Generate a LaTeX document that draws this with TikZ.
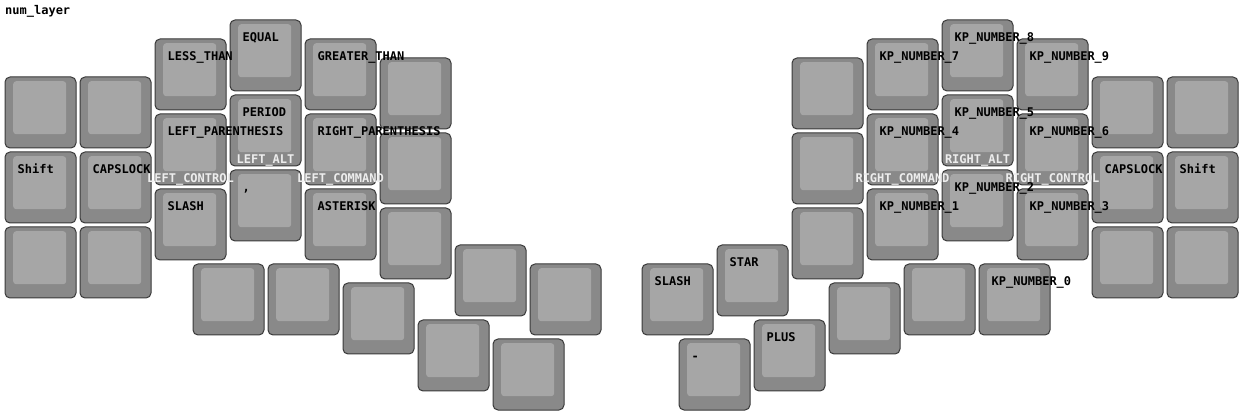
\documentclass[tikz,border=0pt]{standalone}
\usepackage{fontspec}
\setmonofont{DejaVu Sans Mono}
\usepackage{tikz}
\usepackage{xcolor}

\definecolor{capgray}{HTML}{898989}
\definecolor{topgray}{HTML}{A6A6A6}
\definecolor{rimgray}{HTML}{3A3A3A}

\tikzset{
  keycap/.style={draw=rimgray, line width=1pt, fill=capgray, rounded corners=5pt,
    minimum width=71pt, minimum height=71pt, inner sep=0pt, anchor=north west},
  keytop/.style={fill=topgray, rounded corners=3pt,
    minimum width=53pt, minimum height=53pt, inner sep=0pt, anchor=north west},
  taplabel/.style={font=\ttfamily\bfseries\fontsize{12}{14}\selectfont, text=black,
    inner sep=0pt, anchor=base west},
  holdlabel/.style={font=\ttfamily\bfseries\fontsize{12}{14}\selectfont, text=white!93!black,
    inner sep=0pt, anchor=base}
}

\begin{document}
\begin{tikzpicture}[x=1pt, y=-1pt]
    \fill[white] (0,0) rectangle (1242,419);
    \useasboundingbox (0,0) rectangle (1242,419);
    \node[taplabel] (title) at (5,14.5) {num\_layer};
    % left half
    \foreach \n/\x/\y in {la/4/76, lb/4/151, lc/4/226, ma/79/76, mb/79/151, mc/79/226,
        na/154/38, nb/154/113, nc/154/188, oa/229/19, ob/229/94, oc/229/169,
        pa/304/38, pb/304/113, pc/304/188, qa/379/57, qb/379/132, qc/379/207,
        ta/192/263, tb/267/263, tc/342/282, td/417/319, te/454/244, tf/492/338, tg/529/263}{
        \node[keycap] (\n) at (\x+0.5,\y+0.5) {};
        \node[keytop] (\n-top) at (\x+9,\y+5) {};
    }
    % right half
    \foreach \n/\x/\y in {ra/1166/76, rb/1166/151, rc/1166/226, sa/1091/76, sb/1091/151, sc/1091/226,
        ua/1016/38, ub/1016/113, uc/1016/188, va/941/19, vb/941/94, vc/941/169,
        wa/866/38, wb/866/113, wc/866/188, xa/791/57, xb/791/132, xc/791/207,
        ya/978/263, yb/903/263, yc/828/282, yd/753/319, ye/716/244, yf/678/338, yg/641/263}{
        \node[keycap] (\n) at (\x+0.5,\y+0.5) {};
        \node[keytop] (\n-top) at (\x+9,\y+5) {};
    }
    % left labels
    \node[taplabel] (lb-tap) at ([xshift=13pt,yshift=-22pt]lb.north west) {Shift};
    \node[taplabel] (mb-tap) at ([xshift=13pt,yshift=-22pt]mb.north west) {CAPSLOCK};
    \node[taplabel] (na-tap) at ([xshift=13pt,yshift=-22pt]na.north west) {LESS\_THAN};
    \node[taplabel] (nb-tap) at ([xshift=13pt,yshift=-22pt]nb.north west) {LEFT\_PARENTHESIS};
    \node[taplabel] (nc-tap) at ([xshift=13pt,yshift=-22pt]nc.north west) {SLASH};
    \node[taplabel] (oa-tap) at ([xshift=13pt,yshift=-22pt]oa.north west) {EQUAL};
    \node[taplabel] (ob-tap) at ([xshift=13pt,yshift=-22pt]ob.north west) {PERIOD};
    \node[taplabel] (oc-tap) at ([xshift=13pt,yshift=-22pt]oc.north west) {,};
    \node[taplabel] (pa-tap) at ([xshift=13pt,yshift=-22pt]pa.north west) {GREATER\_THAN};
    \node[taplabel] (pb-tap) at ([xshift=13pt,yshift=-22pt]pb.north west) {RIGHT\_PARENTHESIS};
    \node[taplabel] (pc-tap) at ([xshift=13pt,yshift=-22pt]pc.north west) {ASTERISK};
    \node[holdlabel] (nb-hold) at ([yshift=3pt]nb.south) {LEFT\_CONTROL};
    \node[holdlabel] (ob-hold) at ([yshift=3pt]ob.south) {LEFT\_ALT};
    \node[holdlabel] (pb-hold) at ([yshift=3pt]pb.south) {LEFT\_COMMAND};
    % right labels
    \node[taplabel] (rb-tap) at ([xshift=13pt,yshift=-22pt]rb.north west) {Shift};
    \node[taplabel] (sb-tap) at ([xshift=13pt,yshift=-22pt]sb.north west) {CAPSLOCK};
    \node[taplabel] (ua-tap) at ([xshift=13pt,yshift=-22pt]ua.north west) {KP\_NUMBER\_9};
    \node[taplabel] (ub-tap) at ([xshift=13pt,yshift=-22pt]ub.north west) {KP\_NUMBER\_6};
    \node[taplabel] (uc-tap) at ([xshift=13pt,yshift=-22pt]uc.north west) {KP\_NUMBER\_3};
    \node[taplabel] (va-tap) at ([xshift=13pt,yshift=-22pt]va.north west) {KP\_NUMBER\_8};
    \node[taplabel] (vb-tap) at ([xshift=13pt,yshift=-22pt]vb.north west) {KP\_NUMBER\_5};
    \node[taplabel] (vc-tap) at ([xshift=13pt,yshift=-22pt]vc.north west) {KP\_NUMBER\_2};
    \node[taplabel] (wa-tap) at ([xshift=13pt,yshift=-22pt]wa.north west) {KP\_NUMBER\_7};
    \node[taplabel] (wb-tap) at ([xshift=13pt,yshift=-22pt]wb.north west) {KP\_NUMBER\_4};
    \node[taplabel] (wc-tap) at ([xshift=13pt,yshift=-22pt]wc.north west) {KP\_NUMBER\_1};
    \node[taplabel] (ya-tap) at ([xshift=13pt,yshift=-22pt]ya.north west) {KP\_NUMBER\_0};
    \node[taplabel] (yd-tap) at ([xshift=13pt,yshift=-22pt]yd.north west) {PLUS};
    \node[taplabel] (ye-tap) at ([xshift=13pt,yshift=-22pt]ye.north west) {STAR};
    \node[taplabel] (yf-tap) at ([xshift=13pt,yshift=-22pt]yf.north west) {-};
    \node[taplabel] (yg-tap) at ([xshift=13pt,yshift=-22pt]yg.north west) {SLASH};
    \node[holdlabel] (wb-hold) at ([yshift=3pt]wb.south) {RIGHT\_COMMAND};
    \node[holdlabel] (vb-hold) at ([yshift=3pt]vb.south) {RIGHT\_ALT};
    \node[holdlabel] (ub-hold) at ([yshift=3pt]ub.south) {RIGHT\_CONTROL};
\end{tikzpicture}
\end{document}
